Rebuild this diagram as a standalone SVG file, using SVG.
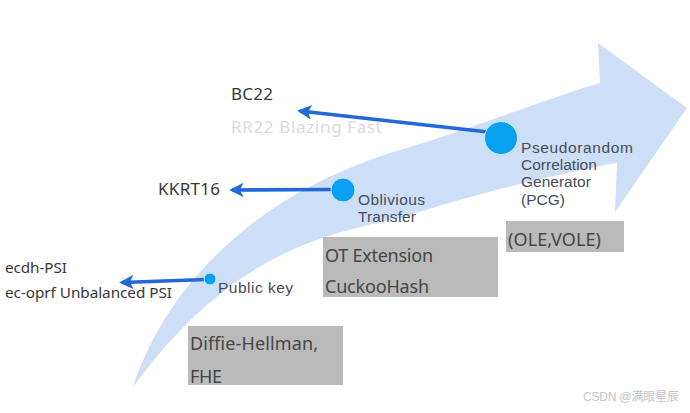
<svg xmlns="http://www.w3.org/2000/svg" width="690" height="413" viewBox="0 0 690 413">
<defs>
<style>
.lbl{font-family:"Noto Sans","Liberation Sans",sans-serif;fill:#383838}
.box{fill:#bababa}
.btxt{font-family:"Noto Sans","Liberation Sans",sans-serif;font-size:18px;fill:#454545}
.ntxt{font-family:"Liberation Sans",Arial,sans-serif;font-size:15.5px;fill:#474c57}
.dot{fill:#0aa0f2;stroke:#c5ecff;stroke-width:1}
.conn{stroke:#2168d8;stroke-width:3.6;fill:none;marker-end:url(#ah)}
</style>
<marker id="ah" viewBox="0 0 10 10" refX="8" refY="5" markerWidth="4.2" markerHeight="4" markerUnits="strokeWidth" orient="auto">
<path d="M0,0 L10,5 L0,10 L2.5,5 Z" fill="#2168d8"/>
</marker>
</defs>
<rect width="690" height="413" fill="#ffffff"/>
<g id="big-arrow">
<path d="M133,387 C165,290 250,195 400,150 C470,129 540,101 600,83 L598,43 L687,108 L615,212 L617,163 C550,175 460,198 400,218 C320,235 230,255 133,387 Z" fill="#cddff7"/>
</g>
<g id="boxes">
<g id="box-dh"><rect class="box" x="188" y="326" width="155" height="59"/>
<text class="btxt" x="190" y="350" textLength="128">Diffie-Hellman,</text>
<text class="btxt" x="190" y="383" textLength="32">FHE</text></g>
<g id="box-ot"><rect class="box" x="323" y="237" width="175" height="60"/>
<text class="btxt" x="325" y="262" textLength="108">OT Extension</text>
<text class="btxt" x="325" y="293" textLength="104">CuckooHash</text></g>
<g id="box-ole"><rect class="box" x="506" y="221" width="118" height="31"/>
<text class="btxt" x="508" y="246" textLength="93">(OLE,VOLE)</text></g>
</g>
<g id="connectors">
<path class="conn" d="M488,132 L300,111"/>
<path class="conn" d="M332,189.5 L232,190"/>
<path class="conn" d="M206,279.5 L122,282.5"/>
</g>
<g id="node-pcg">
<circle class="dot" cx="501" cy="138" r="16.5"/>
<text class="ntxt" x="521" y="153" textLength="112">Pseudorandom</text>
<text class="ntxt" x="521" y="170">Correlation</text>
<text class="ntxt" x="521" y="187">Generator</text>
<text class="ntxt" x="521" y="205">(PCG)</text>
</g>
<g id="node-ot">
<circle class="dot" cx="343" cy="190" r="12"/>
<text class="ntxt" x="358" y="205" textLength="67">Oblivious</text>
<text class="ntxt" x="358" y="222" textLength="58">Transfer</text>
</g>
<g id="node-pk">
<circle class="dot" cx="210" cy="279" r="6"/>
<text class="ntxt" x="218" y="293" textLength="75">Public key</text>
</g>
<g id="labels">
<text class="lbl" x="231" y="100" font-size="17" textLength="42">BC22</text>
<text class="lbl" x="231" y="133" font-size="17" textLength="151" style="fill:#dadada">RR22 Blazing Fast</text>
<text class="lbl" x="158" y="195" font-size="17" textLength="62">KKRT16</text>
<text class="lbl" x="5" y="273" font-size="15.3" textLength="62">ecdh-PSI</text>
<text class="lbl" x="5" y="298" font-size="15.3" textLength="167">ec-oprf Unbalanced PSI</text>
</g>
<text x="583" y="401" font-family="'Liberation Sans','Noto Sans CJK SC',sans-serif" font-size="12" fill="#c4c4c4" textLength="96">CSDN @满眼星辰</text>
</svg>
